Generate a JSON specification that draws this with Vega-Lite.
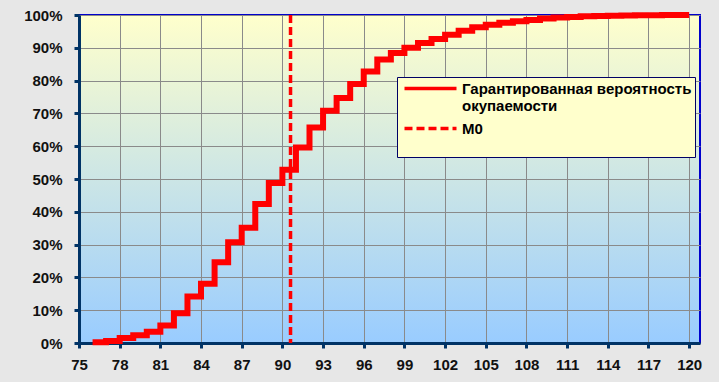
{
  "$schema": "https://vega.github.io/schema/vega-lite/v6.json",
  "width": 621,
  "height": 328,
  "autosize": {"type": "none"},
  "padding": {"left": 79, "top": 15, "right": 19, "bottom": 39},
  "background": "#e7e7e7",
  "config": {
    "font": "Liberation Sans",
    "view": {
      "fill": {
        "gradient": "linear",
        "x1": 0, "y1": 0, "x2": 0, "y2": 1,
        "stops": [
          {"offset": 0, "color": "#ffffcc"},
          {"offset": 1, "color": "#99ccff"}
        ]
      },
      "stroke": "#0000cc",
      "strokeWidth": 2
    },
    "axis": {
      "domainColor": "#003366",
      "domainWidth": 3,
      "tickColor": "#003366",
      "tickWidth": 3,
      "tickSize": 5,
      "gridColor": "#8a8a8a",
      "gridWidth": 1,
      "gridOpacity": 1,
      "labelFont": "Liberation Sans",
      "labelFontWeight": "bold",
      "labelFontSize": 15,
      "labelColor": "#111111",
      "title": null
    },
    "legend": {
      "orient": "none",
      "legendX": 318,
      "legendY": 62,
      "title": null,
      "symbolType": "M-4,0H4",
      "symbolSize": 169,
      "symbolStrokeWidth": 3.5,
      "symbolOffset": 22,
      "labelFont": "Liberation Sans",
      "labelFontWeight": "bold",
      "labelFontSize": 15,
      "labelColor": "#000000",
      "labelLimit": 400,
      "labelOffset": 23,
      "fillColor": "#ffffcc",
      "strokeColor": "#000066",
      "padding": 3,
      "rowPadding": 6
    }
  },
  "layer": [
    {
      "data": {
        "values": [
          {"x": 76, "p": 0.2, "series": "Гарантированная вероятность окупаемости"},
          {"x": 77, "p": 0.6, "series": "Гарантированная вероятность окупаемости"},
          {"x": 78, "p": 1.5, "series": "Гарантированная вероятность окупаемости"},
          {"x": 79, "p": 2.4, "series": "Гарантированная вероятность окупаемости"},
          {"x": 80, "p": 3.4, "series": "Гарантированная вероятность окупаемости"},
          {"x": 81, "p": 5.3, "series": "Гарантированная вероятность окупаемости"},
          {"x": 82, "p": 9.1, "series": "Гарантированная вероятность окупаемости"},
          {"x": 83, "p": 14.2, "series": "Гарантированная вероятность окупаемости"},
          {"x": 84, "p": 18.1, "series": "Гарантированная вероятность окупаемости"},
          {"x": 85, "p": 24.6, "series": "Гарантированная вероятность окупаемости"},
          {"x": 86, "p": 30.7, "series": "Гарантированная вероятность окупаемости"},
          {"x": 87, "p": 35.1, "series": "Гарантированная вероятность окупаемости"},
          {"x": 88, "p": 42.4, "series": "Гарантированная вероятность окупаемости"},
          {"x": 89, "p": 48.8, "series": "Гарантированная вероятность окупаемости"},
          {"x": 90, "p": 52.8, "series": "Гарантированная вероятность окупаемости"},
          {"x": 91, "p": 59.6, "series": "Гарантированная вероятность окупаемости"},
          {"x": 92, "p": 65.7, "series": "Гарантированная вероятность окупаемости"},
          {"x": 93, "p": 70.8, "series": "Гарантированная вероятность окупаемости"},
          {"x": 94, "p": 74.7, "series": "Гарантированная вероятность окупаемости"},
          {"x": 95, "p": 79.0, "series": "Гарантированная вероятность окупаемости"},
          {"x": 96, "p": 82.8, "series": "Гарантированная вероятность окупаемости"},
          {"x": 97, "p": 86.4, "series": "Гарантированная вероятность окупаемости"},
          {"x": 98, "p": 88.4, "series": "Гарантированная вероятность окупаемости"},
          {"x": 99, "p": 90.0, "series": "Гарантированная вероятность окупаемости"},
          {"x": 100, "p": 91.5, "series": "Гарантированная вероятность окупаемости"},
          {"x": 101, "p": 92.7, "series": "Гарантированная вероятность окупаемости"},
          {"x": 102, "p": 94.0, "series": "Гарантированная вероятность окупаемости"},
          {"x": 103, "p": 95.2, "series": "Гарантированная вероятность окупаемости"},
          {"x": 104, "p": 96.3, "series": "Гарантированная вероятность окупаемости"},
          {"x": 105, "p": 97.0, "series": "Гарантированная вероятность окупаемости"},
          {"x": 106, "p": 97.6, "series": "Гарантированная вероятность окупаемости"},
          {"x": 107, "p": 98.1, "series": "Гарантированная вероятность окупаемости"},
          {"x": 108, "p": 98.5, "series": "Гарантированная вероятность окупаемости"},
          {"x": 109, "p": 98.9, "series": "Гарантированная вероятность окупаемости"},
          {"x": 110, "p": 99.2, "series": "Гарантированная вероятность окупаемости"},
          {"x": 111, "p": 99.4, "series": "Гарантированная вероятность окупаемости"},
          {"x": 112, "p": 99.6, "series": "Гарантированная вероятность окупаемости"},
          {"x": 113, "p": 99.7, "series": "Гарантированная вероятность окупаемости"},
          {"x": 114, "p": 99.8, "series": "Гарантированная вероятность окупаемости"},
          {"x": 115, "p": 99.85, "series": "Гарантированная вероятность окупаемости"},
          {"x": 116, "p": 99.9, "series": "Гарантированная вероятность окупаемости"},
          {"x": 117, "p": 99.95, "series": "Гарантированная вероятность окупаемости"},
          {"x": 118, "p": 100, "series": "Гарантированная вероятность окупаемости"},
          {"x": 119, "p": 100, "series": "Гарантированная вероятность окупаемости"},
          {"x": 120, "p": 100, "series": "Гарантированная вероятность окупаемости"}
        ]
      },
      "mark": {
        "type": "line",
        "interpolate": "step-after",
        "strokeWidth": 6,
        "strokeJoin": "miter",
        "strokeCap": "butt"
      },
      "encoding": {
        "x": {
          "field": "x",
          "type": "quantitative",
          "scale": {"domain": [75, 120.8], "nice": false, "zero": false},
          "axis": {
            "values": [75, 78, 81, 84, 87, 90, 93, 96, 99, 102, 105, 108, 111, 114, 117, 120],
            "labelPadding": 9,
            "labelFlush": false
          }
        },
        "y": {
          "field": "p",
          "type": "quantitative",
          "scale": {"domain": [0, 100], "nice": false},
          "axis": {
            "values": [0, 10, 20, 30, 40, 50, 60, 70, 80, 90, 100],
            "labelExpr": "datum.value + '%'",
            "labelPadding": 12
          }
        },
        "color": {
          "field": "series",
          "type": "nominal",
          "scale": {
            "domain": ["Гарантированная вероятность окупаемости", "M0"],
            "range": ["#ff0000", "#ff0000"]
          },
          "legend": {
            "labelExpr": "datum.label == 'M0' ? ['M0', ' '] : ['Гарантированная вероятность', 'окупаемости']"
          }
        },
        "strokeDash": {
          "field": "series",
          "type": "nominal",
          "scale": {
            "domain": ["Гарантированная вероятность окупаемости", "M0"],
            "range": [[1, 0], [8, 4]]
          },
          "legend": {
            "labelExpr": "datum.label == 'M0' ? ['M0', ' '] : ['Гарантированная вероятность', 'окупаемости']"
          }
        }
      }
    },
    {
      "data": {"values": [{"x": 90.6, "series": "M0"}]},
      "mark": {"type": "rule", "strokeWidth": 3.5},
      "encoding": {
        "x": {"field": "x", "type": "quantitative"},
        "color": {"field": "series", "type": "nominal"},
        "strokeDash": {"field": "series", "type": "nominal"}
      }
    }
  ]
}
